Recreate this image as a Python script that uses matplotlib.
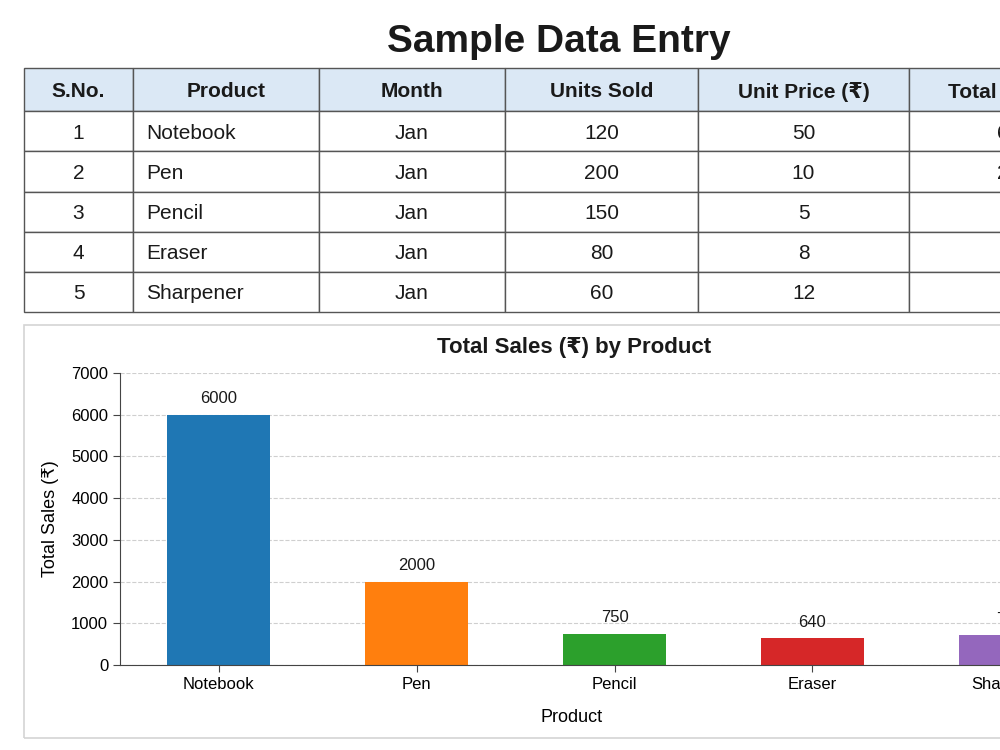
import numpy as np
import matplotlib
matplotlib.use("Agg")
import matplotlib.pyplot as plt
from matplotlib.patches import Rectangle

plt.rcParams['font.family'] = ['Liberation Sans', 'DejaVu Sans']
plt.rcParams['text.color'] = '#1a1a1a'

# data
col_labels = ['S.No.', 'Product', 'Month', 'Units Sold', 'Unit Price (₹)', 'Total Sales (₹)']
serial = [1, 2, 3, 4, 5]
products = ['Notebook', 'Pen', 'Pencil', 'Eraser', 'Sharpener']
months = ['Jan', 'Jan', 'Jan', 'Jan', 'Jan']
units = [120, 200, 150, 80, 60]
prices = [50, 10, 5, 8, 12]
totals = [6000, 2000, 750, 640, 720]
bar_colors = ['#1f77b4', '#ff7f0e', '#2ca02c', '#d62728', '#9467bd']

fig = plt.figure(figsize=(10, 7.5), dpi=100)
fig.patch.set_facecolor('white')

fig.text(0.559, 1 - 52 / 750, 'Sample Data Entry', ha='center', va='baseline',
         fontsize=28, fontweight='bold')

# table
ax0 = fig.add_axes([0, 0, 1, 1])
ax0.axis('off')
rows = [[str(s), p, m, str(u), str(pr), str(t)]
        for s, p, m, u, pr, t in zip(serial, products, months, units, prices, totals)]
widths = [109, 186, 186, 193, 211, 222]
tbl = ax0.table(cellText=rows, colLabels=col_labels, cellLoc='center',
                colWidths=[w / 1000 for w in widths],
                bbox=[0.024, 1 - 312 / 750, sum(widths) / 1000, 244 / 750])
tbl.auto_set_font_size(False)
tbl.set_fontsize(15)
for (r, c), cell in tbl.get_celld().items():
    cell.set_edgecolor('#555555')
    cell.set_linewidth(1)
    cell.get_text().set_verticalalignment('center_baseline')
    if r == 0:
        cell.set_height(43 / 750)
        cell.set_facecolor('#dbe8f5')
        cell.get_text().set_fontweight('bold')
    else:
        cell.set_height(40 / 750)
        if c == 1:
            cell._loc = 'left'
            cell.PAD = 0.07
            cell.get_text().set_horizontalalignment('left')

# box around the chart
fig.patches.append(Rectangle((0.024, 1 - 738 / 750), 1.2, 413 / 750,
                             transform=fig.transFigure, fill=False,
                             edgecolor='#d4d4d4', linewidth=1.2))

# bar chart
ax = fig.add_axes([0.12, 1 - 665 / 750, 0.989, 292 / 750])
x = np.arange(len(products))
bars = ax.bar(x, totals, width=0.52, color=bar_colors)
ax.bar_label(bars, padding=6, fontsize=12)
ax.set_xlim(-0.5, 4.5)
ax.set_ylim(0, 7000)
ax.set_yticks(np.arange(0, 7001, 1000))
ax.set_xticks(x)
ax.set_xticklabels(products)
ax.tick_params(labelsize=12, color='#444444', length=5)
ax.yaxis.grid(True, linestyle='--', color='#cfcfcf', linewidth=0.8)
ax.set_axisbelow(True)
for s in ['top', 'right']:
    ax.spines[s].set_visible(False)
for s in ['left', 'bottom']:
    ax.spines[s].set_color('#444444')
ax.set_ylabel('Total Sales (₹)', fontsize=13, labelpad=9)
ax.set_xlabel('Product', fontsize=13)
ax.xaxis.set_label_coords((572 - 120) / 989, -0.15)

fig.text(0.574, 1 - 347 / 750, 'Total Sales (₹) by Product', ha='center', va='center',
         fontsize=16, fontweight='bold')

fig.savefig('out.png', dpi=100)
